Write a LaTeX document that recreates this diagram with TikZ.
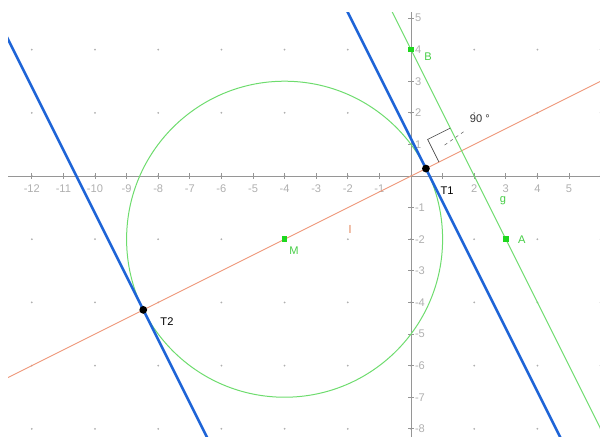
\documentclass[tikz,border=0pt]{standalone}
\usepackage{fontspec}
\setmainfont{Liberation Sans}
\usetikzlibrary{calc}

\definecolor{geoblue}{RGB}{30,100,215}
\definecolor{geogreen}{RGB}{110,220,110}
\definecolor{ptgreen}{RGB}{30,215,30}
\definecolor{labgreen}{RGB}{70,205,70}
\definecolor{geoorange}{RGB}{238,150,120}
\definecolor{laborange}{RGB}{225,125,80}
\definecolor{axisgray}{RGB}{150,150,150}
\definecolor{numgray}{RGB}{175,175,175}

\tikzset{
  axisline/.style={draw=axisgray, line width=0.7pt},
  axisnum/.style={text=numgray, inner sep=0pt},
  tangline/.style={draw=geoblue, line width=2.3pt},
  greenline/.style={draw=geogreen, line width=0.9pt},
  orangeline/.style={draw=geoorange, line width=0.8pt},
  gsquare/.style={rectangle, fill=ptgreen, minimum size=5pt, inner sep=0pt},
  tdot/.style={circle, fill=black, minimum size=7pt, inner sep=0pt},
  glabel/.style={text=labgreen, inner sep=0pt},
  blabel/.style={text=black, inner sep=0pt}
}

\begin{document}
\begin{tikzpicture}[x=1cm, y=1cm, font=\fontsize{10}{12}\selectfont]
  \useasboundingbox (-13.006,-8.228) rectangle (5.981,5.570);

  \coordinate (A) at (3,-2);
  \coordinate (B) at (0,4);
  \coordinate (M) at (-4,-2);
  \coordinate (T1) at (0.4721,0.2361);
  \coordinate (T2) at (-8.4721,-4.2361);
  \coordinate (P) at (1.6,0.8);

  \begin{scope}
    \clip (-12.75,-8.228) rectangle (5.981,5.16);
    % grid dots
    \foreach \x in {-12,-10,...,6}
      \foreach \y in {-8,-6,...,4}
        \fill[numgray] (\x,\y) circle (0.9pt);
    % axes
    \draw[axisline] (-13,0) -- (6,0);
    \draw[axisline] (0,-8.3) -- (0,5.3);
    \foreach \x in {-12,...,-1,1,2,...,6}
      \draw[axisline] (\x,-0.09) -- (\x,0.09);
    \foreach \x in {-12,...,-1,2,3,4,5}
      \node[axisnum] at (\x,-0.4) {\x};
    \foreach \y in {-8,...,-1,1,2,...,5} {
      \draw[axisline] (-0.09,\y) -- (0.09,\y);
      \node[axisnum, anchor=west] at (0.12,\y) {\y};
    }
    % circle, l and g
    \draw[greenline] (M) circle (5);
    \draw[orangeline] ($(M)!-2.2!(T1)$) -- ($(M)!2.5!(T1)$);
    \draw[greenline] ($(B)!-0.5!(A)$) -- ($(B)!2.2!(A)$);
    % tangents
    \draw[tangline] ($(T1)+(-3,6)$) -- ($(T1)+(5,-10)$);
    \draw[tangline] ($(T2)+(-5,10)$) -- ($(T2)+(3,-6)$);
  \end{scope}

  % right angle
  \coordinate (Q1) at ($(P)!0.8cm!(B)$);
  \coordinate (Q3) at ($(P)!0.8cm!(M)$);
  \coordinate (Q2) at ($(Q1)+(Q3)-(P)$);
  \draw[black!75, line width=0.6pt] (Q1) -- (Q2) -- (Q3);
  \draw[black!60, dashed, line width=0.5pt] ($(Q2)!0.5!(P)$) -- ++(0.6,0.42);
  \node[blabel, text=black!80] (ang) at (2.18,1.8) {90 °};

  % points
  \node[gsquare] (ptA) at (A) {};
  \node[gsquare] (ptB) at (B) {};
  \node[gsquare] (ptM) at (M) {};
  \node[tdot] (ptT1) at (T1) {};
  \node[tdot] (ptT2) at (T2) {};

  % labels
  \node[glabel] (labB) at ($(B)+(0.54,-0.23)$) {B};
  \node[glabel] (labA) at ($(A)+(0.51,-0.03)$) {A};
  \node[glabel] (labM) at ($(M)+(0.3,-0.37)$) {M};
  \node[glabel] (labg) at (2.91,-0.79) {g};
  \node[text=laborange, inner sep=0pt] (labl) at (-1.93,-1.68) {l};
  \node[blabel] (labT1) at ($(T1)+(0.67,-0.7)$) {T1};
  \node[blabel] (labT2) at ($(T2)+(0.75,-0.38)$) {T2};
\end{tikzpicture}
\end{document}
